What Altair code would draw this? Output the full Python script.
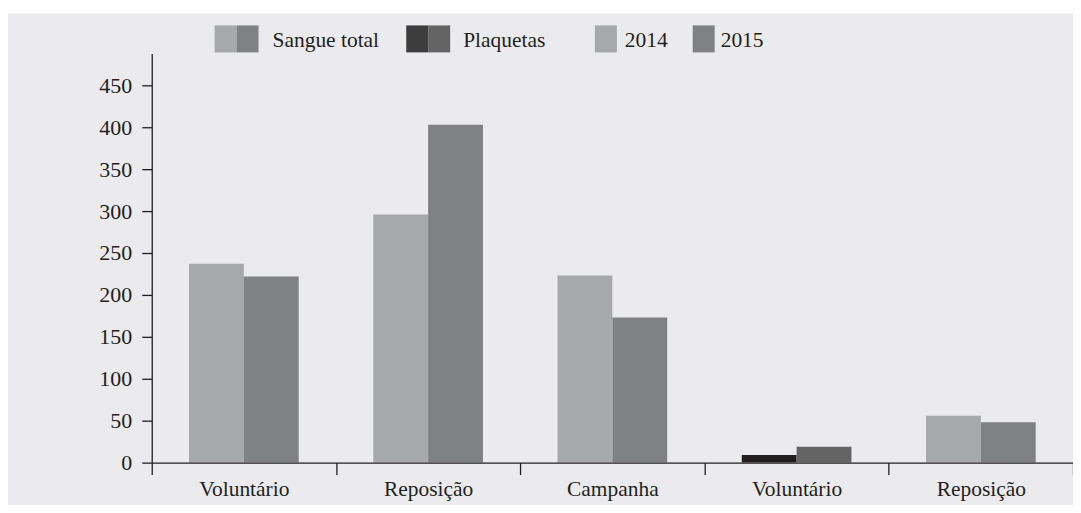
import json
import altair as alt
import pandas as pd

# ---- data ----
groups = ["Voluntário", "Reposição", "Campanha", "Voluntário", "Reposição"]
products = ["Sangue total", "Sangue total", "Sangue total", "Plaquetas", "Plaquetas"]
years = ["2014", "2015"]
values_2014 = [237, 296, 223, 9, 56]
values_2015 = [222, 403, 173, 19, 48]
y_ticks = [0, 50, 100, 150, 200, 250, 300, 350, 400, 450]
legend_labels = ["Sangue total", "Plaquetas", "2014", "2015"]

# ---- style ----
FONT = "Liberation Serif"
INK = "#231f20"
BG = "#ebebed"
C_LIGHT = "#a7a8ab"
C_MID = "#808185"
C_BLACK = "#231f20"
C_DGRAY = "#646464"
W, H = 923, 410
FS = 21.5

rows = []
for i, (g, p) in enumerate(zip(groups, products)):
    for yr, vals in zip(years, (values_2014, values_2015)):
        dark = (p == "Plaquetas" and g == "Voluntário")
        rows.append(dict(key=str(i), grupo=g, produto=p, ano=yr,
                         valor=vals[i], shade=("pq" if dark else "st") + yr))
df = pd.DataFrame(rows)

label_expr = json.dumps(groups) + "[toNumber(datum.value)]"

one = pd.DataFrame({"a": [0]})

# panel background (starts a little below the page top, as in the original)
panel = alt.Chart(one).mark_rect(color=BG).encode(
    x=alt.value(-144), x2=alt.value(W + 10), y=alt.value(-40), y2=alt.value(H + 50))

bars = alt.Chart(df).mark_bar().encode(
    x=alt.X("key:N", sort=[str(i) for i in range(len(groups))],
            scale=alt.Scale(paddingInner=0, paddingOuter=0),
            axis=alt.Axis(title=None, labelExpr=label_expr, labelAngle=0, zindex=1,
                          tickBand="extent", tickSize=12, tickColor=INK, tickWidth=1.3,
                          domainColor=INK, domainWidth=1.3,
                          labelFont=FONT, labelFontSize=FS, labelColor=INK,
                          labelPadding=4)),
    xOffset=alt.XOffset("ano:N", scale=alt.Scale(paddingInner=0, paddingOuter=0.68)),
    y=alt.Y("valor:Q", scale=alt.Scale(domain=[0, 488], nice=False),
            axis=alt.Axis(title=None, values=y_ticks, grid=False, zindex=1,
                          tickSize=10, tickColor=INK, tickWidth=1.3,
                          domainColor=INK, domainWidth=1.3,
                          labelFont=FONT, labelFontSize=22, labelColor=INK,
                          labelPadding=10)),
    color=alt.Color("shade:N",
                    scale=alt.Scale(domain=["st2014", "st2015", "pq2014", "pq2015"],
                                    range=[C_LIGHT, C_MID, C_BLACK, C_DGRAY]),
                    legend=None),
)

# ---- custom legend (positions relative to plot area) ----
swatches = [
    (63, 85, C_LIGHT), (85, 107, C_MID),
    (255, 277, "#3c3c3c"), (277, 299, "#636363"),
    (444, 466, C_LIGHT),
    (542, 564, C_MID),
]
text_x = [121, 312, 474, 570]

legend_layers = []
for x0, x1, col in swatches:
    legend_layers.append(
        alt.Chart(one).mark_rect(color=col).encode(
            x=alt.value(x0), x2=alt.value(x1), y=alt.value(-28), y2=alt.value(-1))
    )
for lbl, tx in zip(legend_labels, text_x):
    legend_layers.append(
        alt.Chart(one).mark_text(align="left", baseline="alphabetic", font=FONT,
                                 fontSize=FS, color=INK).encode(
            x=alt.value(tx), y=alt.value(-6), text=alt.value(lbl))
    )

chart = alt.layer(panel, bars, *legend_layers).properties(
    width=W, height=H,
    autosize=alt.AutoSizeParams(type="none"),
    padding={"left": 144, "top": 45, "right": 0, "bottom": 42},
    background="white",
).configure_view(stroke=None)

chart.save("out.html", embed_options={"renderer": "svg", "actions": False})
